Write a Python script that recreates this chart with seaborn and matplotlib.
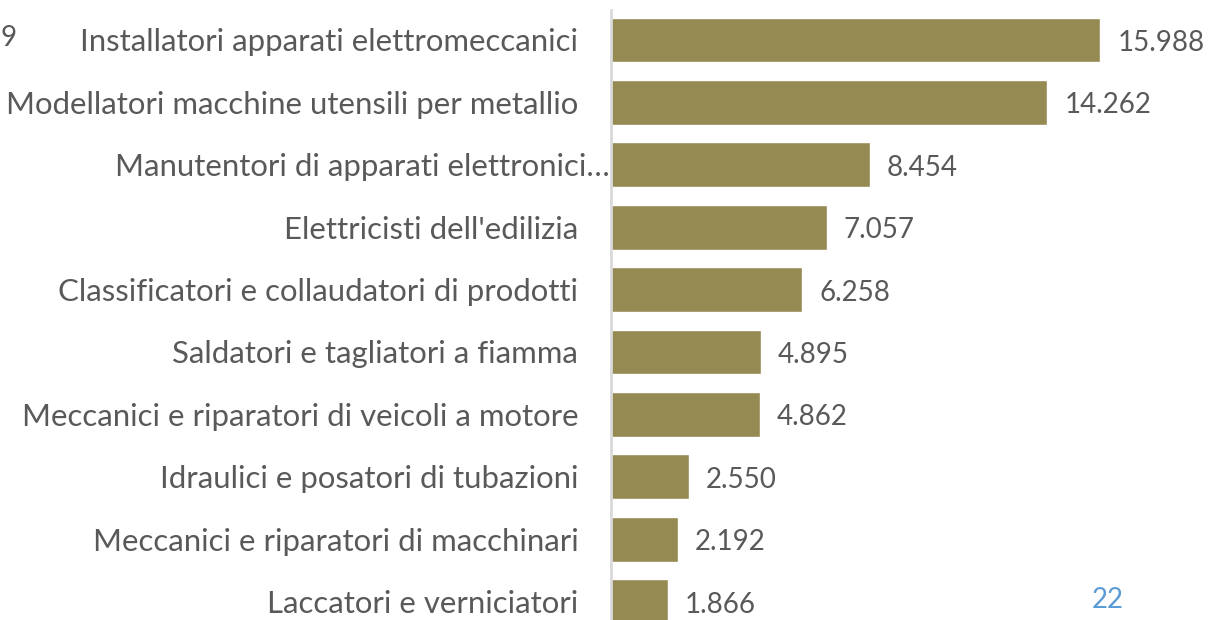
import matplotlib
matplotlib.use("Agg")
import matplotlib.pyplot as plt
import matplotlib.transforms as mtransforms
import seaborn as sns
import pandas as pd

categories = [
    "Installatori apparati elettromeccanici",
    "Modellatori macchine utensili per metallio",
    "Manutentori di apparati elettronici…",
    "Elettricisti dell'edilizia",
    "Classificatori e collaudatori di prodotti",
    "Saldatori e tagliatori a fiamma",
    "Meccanici e riparatori di veicoli a motore",
    "Idraulici e posatori di tubazioni",
    "Meccanici e riparatori di macchinari",
    "Laccatori e verniciatori",
]
values = [15.988, 14.262, 8.454, 7.057, 6.258, 4.895, 4.862, 2.550, 2.192, 1.866]
value_labels = ["15.988", "14.262", "8.454", "7.057", "6.258", "4.895", "4.862", "2.550", "2.192", "1.866"]

df = pd.DataFrame({"cat": categories, "val": values})

sns.set_theme(style="white")
plt.rcParams["font.family"] = ["Lato", "DejaVu Sans"]

BAR = "#968A53"
TXT = "#595959"
FS = 20
FS_CAT = 22.4

fig = plt.figure(figsize=(12.14, 6.2), dpi=100)
ax = fig.add_axes([611 / 1214, 0, 1 - 611 / 1214, 1])
sns.barplot(data=df, x="val", y="cat", color=BAR, width=0.72, ax=ax, saturation=1)

ax.set_xlim(0, 603 / 30.6)
ax.set_ylim((620 - 40) / 62.4, -40 / 62.4)
ax.set_xlabel("")
ax.set_ylabel("")
ax.set_xticks([])
for s in ["top", "right", "bottom"]:
    ax.spines[s].set_visible(False)
ax.spines["left"].set_color("#D9D9D9")
ax.spines["left"].set_linewidth(2)
ax.spines["left"].set_bounds(-0.48, 9.4)
ax.tick_params(axis="y", length=0, pad=23.5, labelsize=FS_CAT, labelcolor=TXT)

# ellipsis overflows past the right-aligned edge
fig.canvas.draw()
r = fig.canvas.get_renderer()
t = fig.text(0, 0, "…", fontsize=FS_CAT)
w = t.get_window_extent(r).width
t.remove()
for lab in ax.get_yticklabels():
    if lab.get_text().endswith("…"):
        lab.set_transform(lab.get_transform() + mtransforms.Affine2D().translate(w * 0.85 + 12, 0))

for i, (v, lab) in enumerate(zip(values, value_labels)):
    ax.annotate(lab, xy=(v, i), xytext=(17, -3), textcoords="offset pixels",
                ha="left", va="center", fontsize=FS, color=TXT, annotation_clip=False)

fig.text(0 / 1214, 1 - 38 / 620, "9", ha="left", va="center", fontsize=FS, color=TXT)
fig.text(1108 / 1214, 1 - 600 / 620, "22", ha="center", va="center", fontsize=FS, color="#5B9BD5")

fig.savefig("out.png", dpi=100)
